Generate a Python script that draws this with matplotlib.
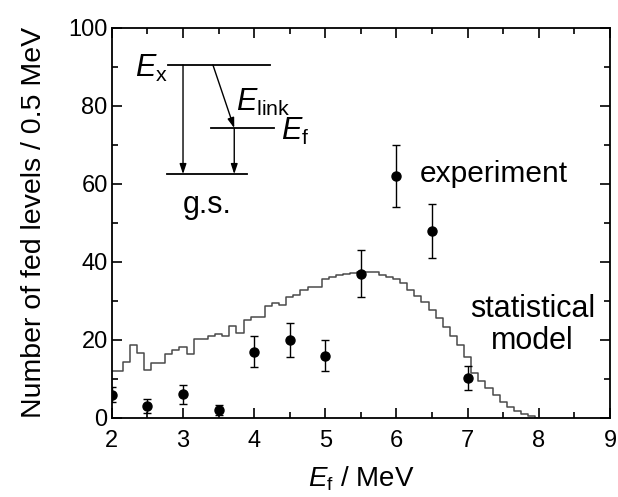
import numpy as np
import matplotlib
matplotlib.use("Agg")
import matplotlib.pyplot as plt
from matplotlib.ticker import MultipleLocator

plt.rcParams['font.family'] = ['Liberation Sans', 'DejaVu Sans']
plt.rcParams['mathtext.fontset'] = 'custom'
plt.rcParams['mathtext.it'] = 'Liberation Sans:italic'
plt.rcParams['mathtext.rm'] = 'Liberation Sans'

# experimental number of fed levels per 0.5 MeV
exp_energy = [2.0, 2.5, 3.0, 3.5, 4.0, 4.5, 5.0, 5.5, 6.0, 6.5, 7.0]
exp_counts = [6, 3.1, 6.1, 2.0, 17, 20, 16, 37, 62, 48, 10.2]
exp_err = [2.0, 1.7, 2.4, 1.3, 4.0, 4.4, 4.0, 6.0, 7.9, 6.9, 3.1]

# statistical model, 0.1 MeV sampling
model_energy = np.round(np.arange(2.0, 8.05, 0.1), 2)
model_counts = [12.0, 12.0, 14.3, 18.6, 16.6, 12.3, 14.0, 14.0, 16.4, 17.3,
                18.3, 16.4, 20.2, 20.2, 20.9, 21.5, 20.9, 23.7, 21.9, 25.1,
                26.0, 26.0, 28.7, 29.4, 28.9, 30.9, 31.5, 32.8, 33.5, 33.5,
                35.6, 36.2, 36.7, 37.0, 37.2, 37.3, 37.3, 37.3, 36.7, 36.2,
                35.6, 34.5, 32.8, 31.3, 29.6, 27.7, 25.5, 23.4, 21.1, 18.7,
                15.6, 11.5, 9.5, 7.6, 5.8, 4.2, 2.8, 1.8, 1.0, 0.4, 0.1]

fig = plt.figure(figsize=(6.18, 4.97), dpi=100)
ax = fig.add_axes([0.181, 0.159, 0.806, 0.785])

ax.step(model_energy, model_counts, where='mid', color='#4a4a4a', lw=1.1)
ax.errorbar(exp_energy, exp_counts, yerr=exp_err, fmt='o', color='black',
            ms=6.5, capsize=3.2, elinewidth=1.0, capthick=1.0)

ax.set_xlim(2, 9)
ax.set_ylim(0, 100)
ax.xaxis.set_major_locator(MultipleLocator(1))
ax.xaxis.set_minor_locator(MultipleLocator(0.5))
ax.yaxis.set_major_locator(MultipleLocator(20))
ax.yaxis.set_minor_locator(MultipleLocator(10))
ax.tick_params(which='both', direction='in', top=True, right=True,
               labelsize=17, width=1.2)
ax.tick_params(which='major', length=7)
ax.tick_params(which='minor', length=4)
ax.tick_params(axis='x', pad=9)
ax.tick_params(axis='y', pad=3)
for s in ax.spines.values():
    s.set_linewidth(1.3)

ax.set_xlabel(r'$E_{\mathrm{f}}$ / MeV', fontsize=20, labelpad=9)
ax.set_ylabel('Number of fed levels / 0.5 MeV', fontsize=20.5, labelpad=15)

# level scheme
ax.plot([2.79, 4.22], [90.5, 90.5], color='black', lw=1.3)
ax.plot([3.40, 4.28], [74.3, 74.3], color='black', lw=1.3)
ax.plot([2.78, 3.90], [62.5, 62.5], color='black', lw=1.3)
arrow = dict(arrowstyle='-|>,head_length=0.6,head_width=0.2', color='black',
             lw=1.0, mutation_scale=10, shrinkA=0, shrinkB=0)
ax.annotate('', xy=(3.0, 62.5), xytext=(3.0, 90.5), arrowprops=arrow)
ax.annotate('', xy=(3.72, 74.3), xytext=(3.42, 90.5), arrowprops=arrow)
ax.annotate('', xy=(3.72, 62.5), xytext=(3.72, 74.3), arrowprops=arrow)

ax.text(2.78, 87.4, r'$E_{\mathrm{x}}$', fontsize=22, ha='right', va='baseline')
ax.text(3.75, 78.7, r'$E_{\mathrm{link}}$', fontsize=22, ha='left', va='baseline')
ax.text(4.37, 71.3, r'$E_{\mathrm{f}}$', fontsize=22, ha='left', va='baseline')
ax.text(3.34, 58.5, 'g.s.', fontsize=22, ha='center', va='top')

ax.text(6.33, 60.6, 'experiment', fontsize=21.5, ha='left', va='baseline')
ax.text(7.91, 23.8, 'statistical\nmodel', fontsize=22, ha='center',
        va='center', linespacing=1.1)

fig.savefig('out.png', dpi=100)
